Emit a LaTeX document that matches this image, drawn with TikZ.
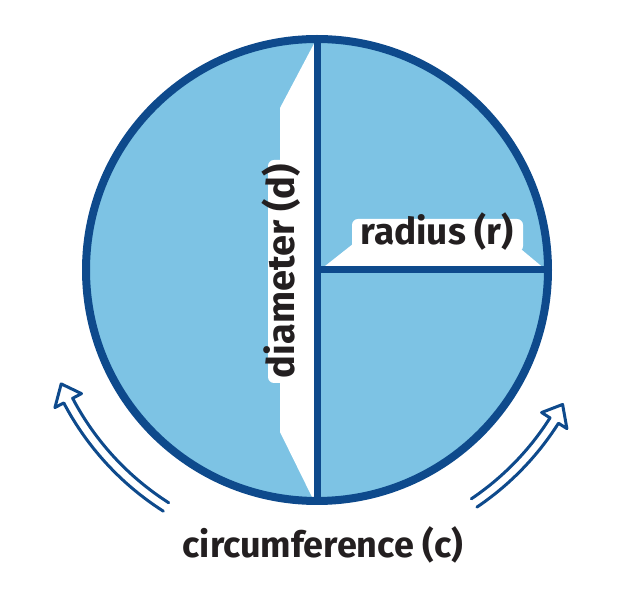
\documentclass[tikz,border=0pt]{standalone}
\usepackage{fontspec}
\setmainfont{Fira Sans}
\definecolor{navy}{RGB}{14,74,140}
\definecolor{sky}{RGB}{125,195,228}
\definecolor{ink}{RGB}{35,31,32}
\begin{document}
\begin{tikzpicture}[x=1pt,y=-1pt,
  rim/.style={draw=navy,line width=8pt},
  divider/.style={draw=navy,line width=7pt},
  halo/.style={fill=white,rounded corners=6pt},
  arrowline/.style={draw=navy,line width=3pt,line join=round,line cap=round},
  lbl/.style={text=ink,font=\bfseries,inner sep=0pt}]
\useasboundingbox (0,0) rectangle (630,593);
\coordinate (C) at (317,270);
% disc
\fill[sky] (C) circle[radius=231pt];
% white bands
\fill[white] (317,38) -- (280,108) -- (280,432) -- (314,501) -- cycle;
\fill[white] (320,270) -- (358,240) -- (510,240) -- (546,270) -- cycle;
% halos behind the labels
\fill[halo] (268,160) rectangle (292,383);
\fill[halo] (352,219) rectangle (523,252);
% diameter and radius lines
\coordinate (T) at (317,39);
\coordinate (B) at (317,501);
\coordinate (E) at (548,270);
\draw[divider] (T) -- (B);
\draw[divider] (C) -- (E);
\draw[rim] (C) circle[radius=231pt];
% labels
\node[lbl,font=\bfseries\fontsize{38}{42}\selectfont,rotate=90] (d) at (281,271) {diameter (d)};
\node[lbl,font=\bfseries\fontsize{37}{41}\selectfont] (r) at (437,232) {radius (r)};
\node[lbl,font=\bfseries\fontsize{36}{40}\selectfont] (c) at (323,545) {circumference (c)};
% hollow arrows
\begin{scope}[shift={(C)}]
\draw[arrowline] (-122.5:286pt) arc[start angle=-122.5,end angle=-152.3,radius=286pt]
  -- (-152.3:296pt) -- (-156:280pt) -- (-152.3:266pt) -- (-152.3:276pt)
  arc[start angle=-152.3,end angle=-122.5,radius=276pt];
\draw[arrowline] (-56:286pt) arc[start angle=-56,end angle=-32.4,radius=286pt]
  -- (-32.4:296pt) -- (-28.7:280pt) -- (-32.4:266pt) -- (-32.4:276pt)
  arc[start angle=-32.4,end angle=-56,radius=276pt];
\end{scope}
\end{tikzpicture}
\end{document}
